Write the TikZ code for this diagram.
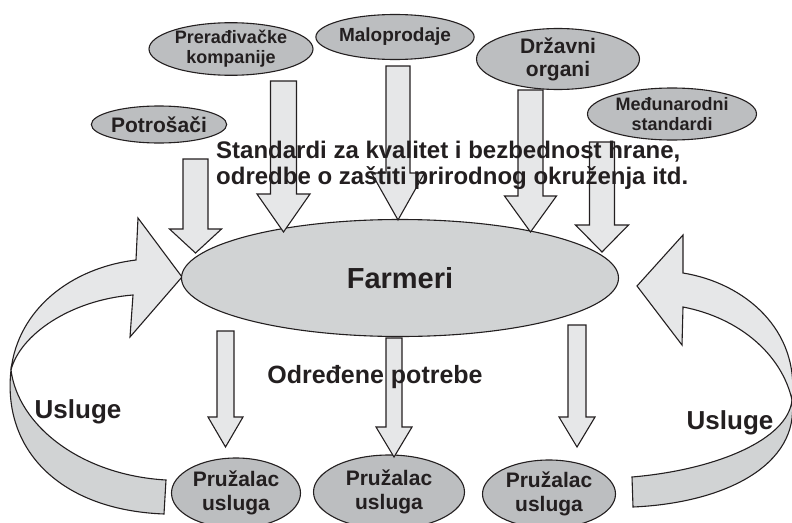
\documentclass[tikz,border=0pt]{standalone}
\usepackage{fontspec}
\setmainfont{Liberation Sans}
\usetikzlibrary{shapes.geometric,calc}

\definecolor{ovalgray}{HTML}{BCBEC0}
\definecolor{farmgray}{HTML}{D1D3D4}
\definecolor{arrowgray}{HTML}{E6E7E8}
\definecolor{bandgray}{HTML}{D1D3D4}
\definecolor{ink}{HTML}{231F20}

\newcommand{\fsz}[2]{\fontsize{#1}{#2}\selectfont\bfseries}
\newcommand{\blockarrow}[5]{%
  \draw[barrow] let \p1=(#1), \p2=(#2) in
    (\x1-#3,\y1) -- (\x1+#3,\y1) -- (\x1+#3,\y2+#5) -- (\x1+#4,\y2+#5)
    -- (\x2,\y2) -- (\x1-#4,\y2+#5) -- (\x1-#3,\y2+#5) -- cycle;}

\tikzset{
  oval/.style={ellipse, draw=ink, fill=ovalgray, line width=1.1pt, inner sep=0pt, align=center, text=ink},
  barrow/.style={draw=ink, fill=arrowgray, line width=1.1pt, line join=miter},
  topband/.style={draw=ink, fill=arrowgray, line width=1.1pt},
  lowband/.style={draw=ink, fill=bandgray, line width=1.1pt},
  lbl/.style={text=ink, inner sep=0pt}
}

\begin{document}
\begin{tikzpicture}[x=1pt, y=-1pt]
    \useasboundingbox (0,0) rectangle (792,522);
    \clip (0,0) rectangle (792,522);

    \draw[lowband] (11,370) .. controls (18,425) and (80,475) .. (166,480) -- (164,514)
        .. controls (60,510) and (2,450) .. (11,370) -- cycle;
    \draw[topband] (136,260) .. controls (70,268) and (18,310) .. (11,370)
        .. controls (20,335) and (70,300) .. (133,295) -- (130,337) -- (182,277) -- (138,218) -- cycle;
    \draw[lowband] (792,400) .. controls (788,440) and (715,470) .. (632,477) -- (633,507)
        .. controls (725,503) and (800,465) .. (792,400) -- cycle;
    \draw[topband] (683,273) .. controls (745,283) and (800,330) .. (792,400)
        .. controls (782,355) and (740,318) .. (683,307) -- (682,345) -- (637,286) -- (683,235) -- cycle;

    \node[oval, fill=farmgray, minimum width=437pt, minimum height=117pt, font=\fsz{29}{32}] (farmeri) at (400,278) {Farmeri};

    \node[oval, minimum width=124pt, minimum height=37pt, font=\fsz{21}{23}] (potrosaci) at (159,124.5) {Potrošači};
    \node[oval, minimum width=164pt, minimum height=52pt, font=\fsz{18}{20}] (preradjivacke) at (231,49) {Prerađivačke\\kompanije};
    \node[oval, minimum width=139pt, minimum height=45pt, font=\fsz{19}{21}] (maloprodaje) at (395,37) {Maloprodaje};
    \node[oval, minimum width=163pt, minimum height=58pt, font=\fsz{21}{23}] (drzavni) at (558,59) {Državni\\organi};
    \node[oval, minimum width=169pt, minimum height=52pt, font=\fsz{18}{20}] (medjunarodni) at (672,114) {Međunarodni\\standardi};

    \node[oval, minimum width=129pt, minimum height=70pt, font=\fsz{21}{24}] (pruzalacA) at (236,493) {Pružalac\\usluga};
    \node[oval, minimum width=151pt, minimum height=74pt, font=\fsz{21}{24}] (pruzalacB) at (389,492) {Pružalac\\usluga};
    \node[oval, minimum width=133pt, minimum height=68pt, font=\fsz{21}{24}] (pruzalacC) at (549,494) {Pružalac\\usluga};

    \coordinate (potS) at (195.5,159);
    \coordinate (potT) at (195.5,253);
    \coordinate (preS) at (283.5,81);
    \coordinate (preT) at (283.5,232);
    \coordinate (malS) at (398,66);
    \coordinate (malT) at (398,220);
    \coordinate (drzS) at (530.5,90);
    \coordinate (drzT) at (530.5,232);
    \coordinate (medS) at (602,142);
    \coordinate (medT) at (602,252);
    \coordinate (pAS) at (225.5,331);
    \coordinate (pAT) at (225.5,447);
    \coordinate (pBS) at (394,338);
    \coordinate (pBT) at (394,457);
    \coordinate (pCS) at (577,325);
    \coordinate (pCT) at (577,447);

    \blockarrow{potS}{potT}{12.5}{26}{24}
    \blockarrow{preS}{preT}{13}{26.5}{38}
    \blockarrow{malS}{malT}{12}{26.5}{47}
    \blockarrow{drzS}{drzT}{12.5}{26}{36}
    \blockarrow{medS}{medT}{12.5}{26.5}{27}
    \blockarrow{pAS}{pAT}{8.5}{17.5}{30}
    \blockarrow{pBS}{pBT}{8}{18}{30}
    \blockarrow{pCS}{pCT}{9}{18}{30}

    \node[lbl, align=left, anchor=west, font=\fsz{24}{26}] (standardi) at (216,165)
        {Standardi za kvalitet i bezbednost hrane,\\odredbe o zaštiti prirodnog okruženja itd.};
    \node[lbl, font=\fsz{25}{28}] (potrebe) at (375,377) {Određene potrebe};
    \node[lbl, font=\fsz{26}{28}] (uslugeL) at (78,412) {Usluge};
    \node[lbl, font=\fsz{26}{28}] (uslugeR) at (730,423) {Usluge};
\end{tikzpicture}
\end{document}
